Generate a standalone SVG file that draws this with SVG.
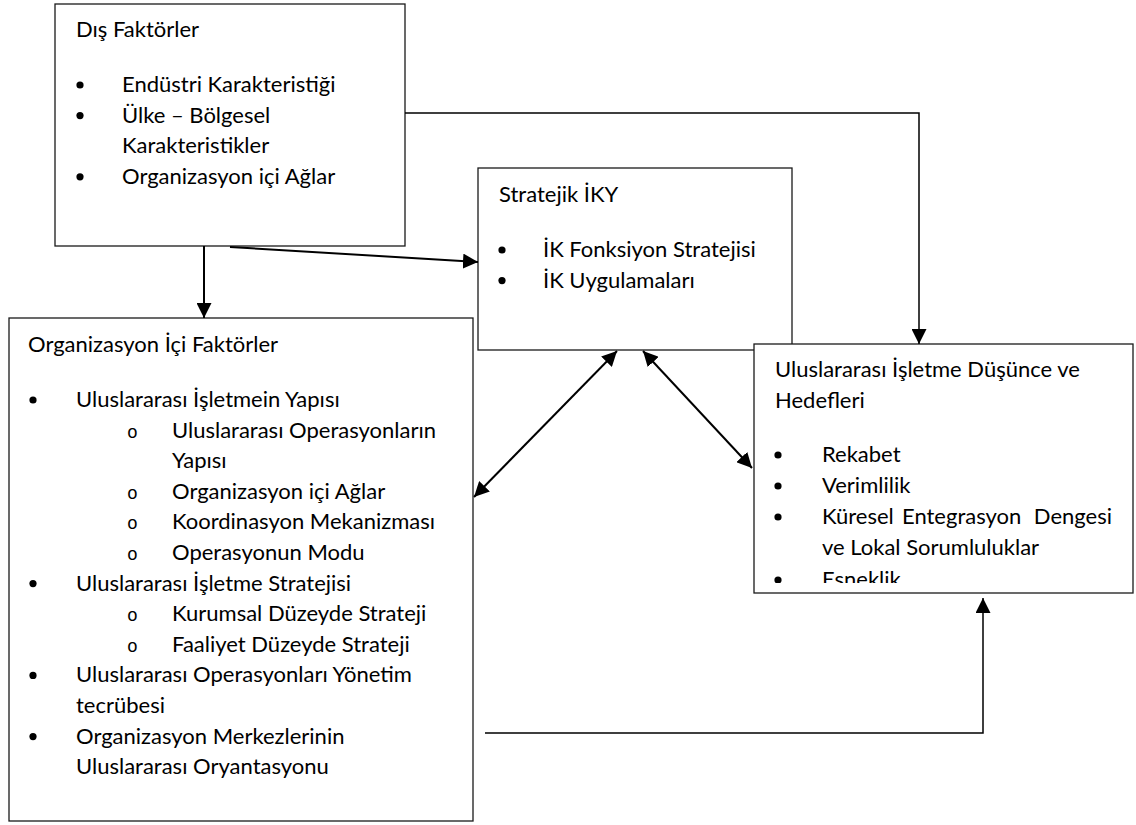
<svg xmlns="http://www.w3.org/2000/svg" width="1136" height="825" viewBox="0 0 1136 825">
  <style>
    .box { fill: #ffffff; stroke: #1a1a1a; stroke-width: 1.3; }
    .t { font-family: Lato, "Open Sans", "Liberation Sans", sans-serif; font-size: 22px; fill: #000; }
    .sub { font-family: "Liberation Mono", monospace; font-size: 18px; fill: #000; }
    .dot { fill: #000; }
    .conn { fill: none; stroke: #000; stroke-width: 2; }
    .thin { fill: none; stroke: #000; stroke-width: 1.5; }
  </style>
  <defs>
    <marker id="arrowEnd" markerUnits="userSpaceOnUse" markerWidth="15" markerHeight="15" viewBox="0 0 15 15" refX="15" refY="7.5" orient="auto">
      <path d="M0,0 L15,7.5 L0,15 Z" fill="#000"/>
    </marker>
    <marker id="arrowStart" markerUnits="userSpaceOnUse" markerWidth="15" markerHeight="15" viewBox="0 0 15 15" refX="0" refY="7.5" orient="auto">
      <path d="M15,0 L0,7.5 L15,15 Z" fill="#000"/>
    </marker>
    <clipPath id="goalsClip">
      <rect x="754" y="344" width="379" height="239"/>
    </clipPath>
  </defs>

  <!-- External factors -->
  <g id="dis-faktorler">
    <rect class="box" x="55" y="4" width="350" height="242"/>
    <text class="t" x="76" y="37">Dış Faktörler</text>
    <circle class="dot" cx="80" cy="85" r="3.6"/>
    <text class="t" x="122" y="92">Endüstri Karakteristiği</text>
    <circle class="dot" cx="80" cy="115.6" r="3.6"/>
    <text class="t" x="122" y="122.6">Ülke – Bölgesel</text>
    <text class="t" x="122" y="153.2">Karakteristikler</text>
    <circle class="dot" cx="80" cy="176.8" r="3.6"/>
    <text class="t" x="122" y="183.8">Organizasyon içi Ağlar</text>
  </g>

  <!-- Strategic HRM -->
  <g id="stratejik-iky">
    <rect class="box" x="478" y="168" width="314" height="182"/>
    <text class="t" x="499" y="202">Stratejik İKY</text>
    <circle class="dot" cx="502" cy="250" r="3.6"/>
    <text class="t" x="543" y="257">İK Fonksiyon Stratejisi</text>
    <circle class="dot" cx="502" cy="280.6" r="3.6"/>
    <text class="t" x="543" y="287.6">İK Uygulamaları</text>
  </g>

  <!-- Internal organisational factors -->
  <g id="organizasyon-ici-faktorler">
    <rect class="box" x="9" y="318" width="464" height="503"/>
    <text class="t" x="28" y="352">Organizasyon İçi Faktörler</text>
    <circle class="dot" cx="33" cy="400" r="3.6"/>
    <text class="t" x="76" y="407">Uluslararası İşletmein Yapısı</text>
    <text class="sub" x="127" y="437.6">o</text>
    <text class="t" x="172" y="437.6">Uluslararası Operasyonların</text>
    <text class="t" x="172" y="468.2">Yapısı</text>
    <text class="sub" x="127" y="498.8">o</text>
    <text class="t" x="172" y="498.8">Organizasyon içi Ağlar</text>
    <text class="sub" x="127" y="529.4">o</text>
    <text class="t" x="172" y="529.4">Koordinasyon Mekanizması</text>
    <text class="sub" x="127" y="560">o</text>
    <text class="t" x="172" y="560">Operasyonun Modu</text>
    <circle class="dot" cx="33" cy="583.6" r="3.6"/>
    <text class="t" x="76" y="590.6">Uluslararası İşletme Stratejisi</text>
    <text class="sub" x="127" y="621.2">o</text>
    <text class="t" x="172" y="621.2">Kurumsal Düzeyde Strateji</text>
    <text class="sub" x="127" y="651.8">o</text>
    <text class="t" x="172" y="651.8">Faaliyet Düzeyde Strateji</text>
    <circle class="dot" cx="33" cy="675.4" r="3.6"/>
    <text class="t" x="76" y="682.4">Uluslararası Operasyonları Yönetim</text>
    <text class="t" x="76" y="713">tecrübesi</text>
    <circle class="dot" cx="33" cy="736.6" r="3.6"/>
    <text class="t" x="76" y="743.6">Organizasyon Merkezlerinin</text>
    <text class="t" x="76" y="774.2">Uluslararası Oryantasyonu</text>
  </g>

  <!-- International business aims and goals -->
  <g id="isletme-dusunce-hedefleri">
    <rect class="box" x="754" y="344" width="379" height="249"/>
    <g clip-path="url(#goalsClip)">
      <text class="t" x="775" y="377">Uluslararası İşletme Düşünce ve</text>
      <text class="t" x="775" y="408">Hedefleri</text>
      <circle class="dot" cx="778" cy="455" r="3.6"/>
      <text class="t" x="822" y="462">Rekabet</text>
      <circle class="dot" cx="778" cy="486" r="3.6"/>
      <text class="t" x="822" y="493">Verimlilik</text>
      <circle class="dot" cx="778" cy="517" r="3.6"/>
      <text class="t" y="524"><tspan x="822">Küresel</tspan><tspan x="902">Entegrasyon</tspan><tspan x="1112" text-anchor="end">Dengesi</tspan></text>
      <text class="t" x="822" y="555">ve Lokal Sorumluluklar</text>
      <circle class="dot" cx="778" cy="580" r="3.6"/>
      <text class="t" x="822" y="587">Esneklik</text>
    </g>
  </g>

  <!-- Connectors -->
  <g id="connectors">
    <path class="thin" d="M405,113 H919 V344" marker-end="url(#arrowEnd)"/>
    <path class="conn" d="M230,247 L478,262" marker-end="url(#arrowEnd)"/>
    <path class="conn" d="M204,246 V318" marker-end="url(#arrowEnd)"/>
    <path class="conn" d="M474,497 L617,351" marker-start="url(#arrowStart)" marker-end="url(#arrowEnd)"/>
    <path class="conn" d="M643,351 L752,468" marker-start="url(#arrowStart)" marker-end="url(#arrowEnd)"/>
    <path class="thin" d="M485,733 H983 V598" marker-end="url(#arrowEnd)"/>
  </g>
</svg>
